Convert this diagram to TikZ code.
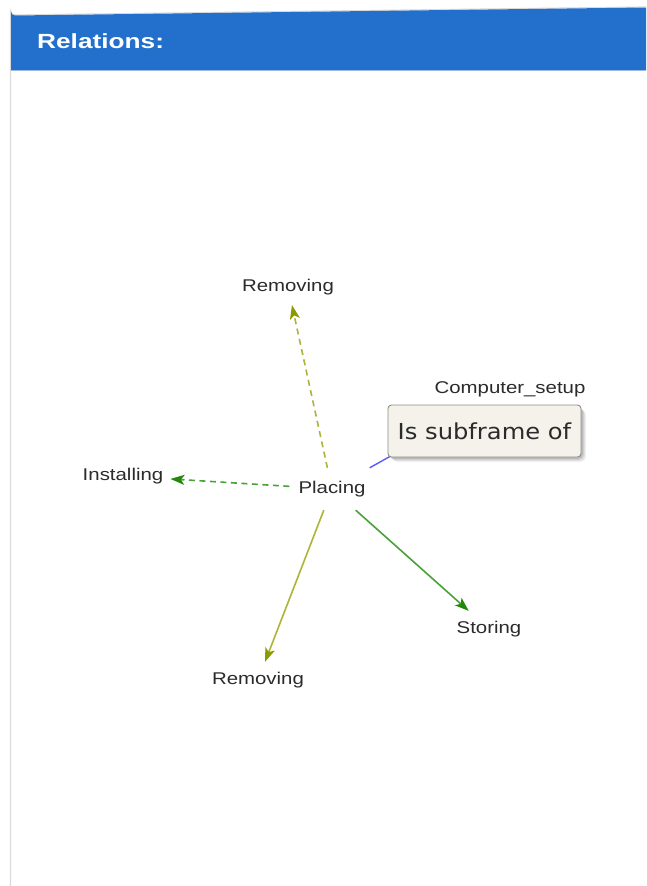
\documentclass[tikz,border=0pt]{standalone}
\usepackage{fontspec}
\setmainfont{Liberation Sans}[FakeStretch=1.2]
\newfontfamily\tipfont{DejaVu Sans}[FakeStretch=1.1]
\newfontfamily\headfont{Liberation Sans}[FakeStretch=1.28]
\usetikzlibrary{arrows.meta}

\definecolor{headblue}{HTML}{2270CC}
\definecolor{headrule}{HTML}{9DB9E2}
\definecolor{panelline}{HTML}{DADADA}
\definecolor{labeltext}{HTML}{2B2B2B}
\definecolor{olivelight}{HTML}{AEB436}
\definecolor{olivedark}{HTML}{8A9A00}
\definecolor{greenlight}{HTML}{48A238}
\definecolor{greendark}{HTML}{248808}
\definecolor{linkblue}{HTML}{5A5AFF}
\definecolor{tipfill}{HTML}{F4F2EA}
\definecolor{tipborder}{HTML}{8C8C84}

\tikzset{
  term/.style={text=labeltext, font=\fontsize{17}{20}\selectfont,
    inner xsep=7pt, inner ysep=10pt},
  hub/.style={text=labeltext, font=\fontsize{17}{20}\selectfont,
    minimum width=85pt, minimum height=42pt, inner sep=0pt},
  rel/.style={line width=1.6pt},
  reldash/.style={rel, dash pattern=on 6pt off 4.5pt},
  oliveedge/.style={draw=olivelight, -{Stealth[length=14pt,width=10pt,inset=3.5pt,color=olivedark]}},
  greenedge/.style={draw=greenlight, -{Stealth[length=14pt,width=10pt,inset=3.5pt,color=greendark]}},
  tipbox/.style={fill=tipfill, draw=tipborder, line width=0.9pt,
    rounded corners=3.5pt, text=labeltext,
    font=\tipfont\fontsize{22}{26}\selectfont,
    minimum width=193pt, minimum height=52pt, inner sep=0pt}
}

\begin{document}
\begin{tikzpicture}[x=1pt,y=-1pt]
  \useasboundingbox (0,0) rectangle (646,886);
  \fill[white] (0,0) rectangle (646,886);

  % panel frame and header band
  \draw[panelline, line width=1.2pt] (10.5,886) -- (10.5,11) arc[start angle=180,end angle=90,radius=4] -- (646,7);
  \fill[headblue] (11,70) -- (11,11.5) arc[start angle=180,end angle=90,radius=4] -- (646,7.5) -- (646,70) -- cycle;
  \draw[headrule, line width=0.8pt] (11,70.4) -- (646,70.4);
  \node[anchor=west, text=white, font=\headfont\bfseries\fontsize{20.5}{24}\selectfont, inner sep=0pt]
    (title) at (37,41) {Relations:};

  % frame nodes
  \node[hub]  (placing)  at (332,489) {Placing};
  \node[term] (remtop)   at (288,287) {Removing};
  \node[term] (install)  at (123,476) {Installing};
  \node[term] (storing)  at (489,629) {Storing};
  \node[term] (rembot)   at (258,680) {Removing};
  \node[term] (compset)  at (510,389) {Computer\_setup};

  % relations
  \draw[linkblue, line width=1.4pt] (placing) -- (compset);
  \draw[reldash, oliveedge] (placing) -- (remtop);
  \draw[reldash, greenedge] (placing) -- (install);
  \draw[rel, greenedge] (placing) -- (storing);
  \draw[rel, oliveedge] (placing) -- (rembot);

  % tooltip with soft shadow
  \foreach \d/\o in {5/0.05,4/0.06,3/0.08,2/0.10}{
    \fill[black, opacity=\o, rounded corners=5pt]
      (388+\d-1,405+\d) rectangle (581+\d,457+\d);
  }
  \node[tipbox] (tip) at (484.5,431) {Is subframe of};
\end{tikzpicture}
\end{document}
